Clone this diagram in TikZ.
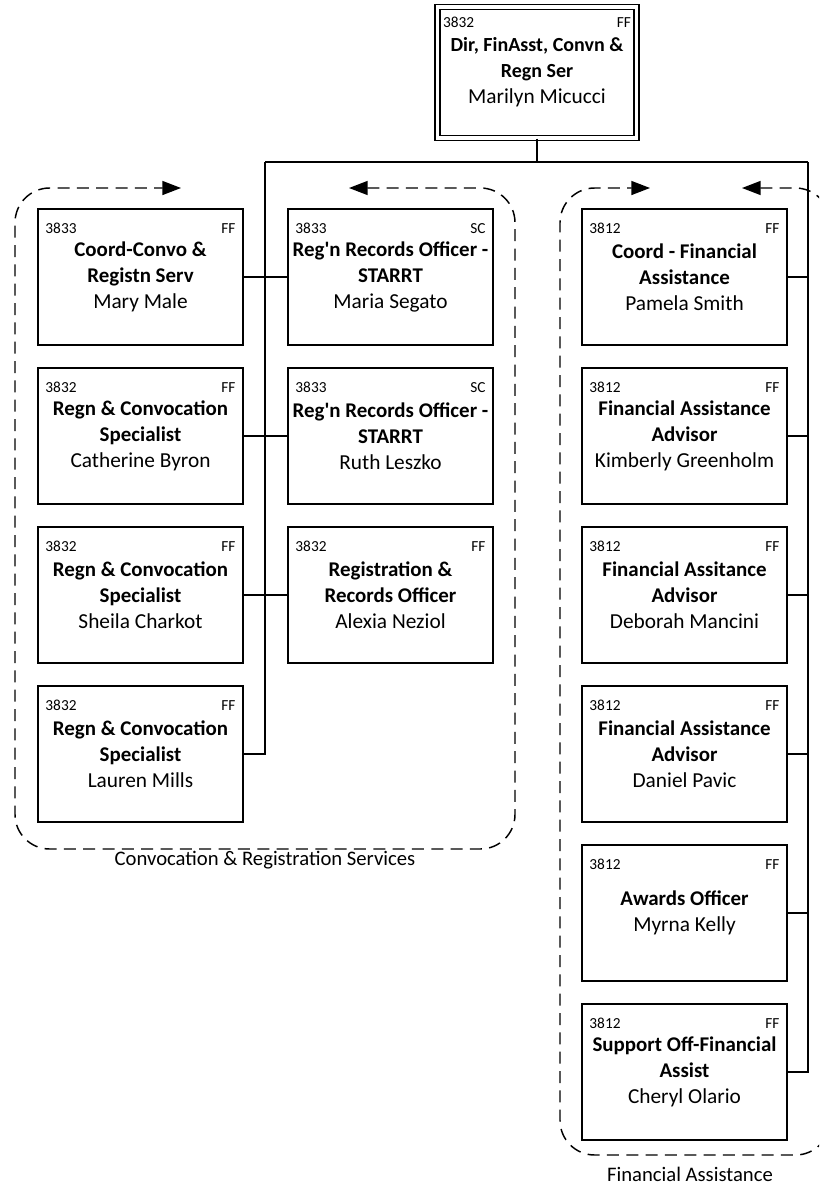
\documentclass[tikz,border=0pt]{standalone}
\usepackage{fontspec}
\setmainfont{Carlito}
\usetikzlibrary{positioning,arrows.meta,calc}
\newcommand{\jobttl}[1]{\textbf{\fontsize{15.7}{19}\selectfont #1}}
\newcommand{\bossttl}[1]{\textbf{\fontsize{15}{19}\selectfont #1}}

\begin{document}
\begin{tikzpicture}[
    x=0.75pt,y=-0.75pt,
    font=\fontsize{16}{19.5}\selectfont,
    post/.style={draw,line width=1.2pt,minimum width=153.75pt,minimum height=102pt,align=center,inner sep=0pt},
    headpost/.style={draw,line width=1pt,double,double distance=2.6pt,minimum width=149.25pt,minimum height=98.25pt,align=center,inner sep=0pt},
    code/.style={font=\fontsize{11.5}{12}\selectfont,inner sep=0pt},
    conn/.style={line width=1.2pt},
    grp/.style={line width=1.1pt,dash pattern=on 9pt off 5.5pt,rounded corners=26pt,>={Triangle[length=14pt,width=10.5pt]}},
    grplabel/.style={font=\fontsize{15.5}{18}\selectfont}
  ]
    \useasboundingbox (0,0) rectangle (819,1185);
    \clip (0,0) rectangle (819,1185);

    % director
    \node[headpost] (boss) at (537,72.5) {\bossttl{Dir, FinAsst, Convn \&}\\\bossttl{Regn Ser}\\Marilyn Micucci};
    \node[code,anchor=base west] (bossno) at ($(boss.north west)+(6,21)$) {3832};
    \node[code,anchor=base east] (bossft) at ($(boss.north east)+(-6,21)$) {FF};

    % convocation & registration, first column
    \node[post] (p1a) at (140.5,277) {\jobttl{Coord-Convo \&}\\\jobttl{Registn Serv}\\Mary Male};
    \node[post] (p1b) at (140.5,436) {\jobttl{Regn \& Convocation}\\\jobttl{Specialist}\\Catherine Byron};
    \node[post] (p1c) at (140.5,595) {\jobttl{Regn \& Convocation}\\\jobttl{Specialist}\\Sheila Charkot};
    \node[post] (p1d) at (140.5,754) {\jobttl{Regn \& Convocation}\\\jobttl{Specialist}\\Lauren Mills};

    % convocation & registration, second column
    \node[post] (p2a) at (390.5,277) {\jobttl{Reg\textquotesingle n Records Officer -}\\\jobttl{STARRT}\\Maria Segato};
    \node[post] (p2b) at (390.5,436) {\jobttl{Reg\textquotesingle n Records Officer -}\\\jobttl{STARRT}\\Ruth Leszko};
    \node[post] (p2c) at (390.5,595) {\jobttl{Registration \&}\\\jobttl{Records Officer}\\Alexia Neziol};

    % financial assistance
    \node[post] (p3a) at (684.5,277) {\jobttl{Coord - Financial}\\\jobttl{Assistance}\\Pamela Smith};
    \node[post] (p3b) at (684.5,436) {\jobttl{Financial Assistance}\\\jobttl{Advisor}\\Kimberly Greenholm};
    \node[post] (p3c) at (684.5,595) {\jobttl{Financial Assitance}\\\jobttl{Advisor}\\Deborah Mancini};
    \node[post] (p3d) at (684.5,754) {\jobttl{Financial Assistance}\\\jobttl{Advisor}\\Daniel Pavic};
    \node[post] (p3e) at (684.5,913) {\jobttl{Awards Officer}\\Myrna Kelly};
    \node[post] (p3f) at (684.5,1072) {\jobttl{Support Off-Financial}\\\jobttl{Assist}\\Cheryl Olario};

    % codes in the corners
    \node[code,anchor=base west] (p1ano) at ($(p1a.north west)+(8,25)$) {3833};
    \node[code,anchor=base east] (p1aft) at ($(p1a.north east)+(-8,25)$) {FF};
    \node[code,anchor=base west] (p1bno) at ($(p1b.north west)+(8,25)$) {3832};
    \node[code,anchor=base east] (p1bft) at ($(p1b.north east)+(-8,25)$) {FF};
    \node[code,anchor=base west] (p1cno) at ($(p1c.north west)+(8,25)$) {3832};
    \node[code,anchor=base east] (p1cft) at ($(p1c.north east)+(-8,25)$) {FF};
    \node[code,anchor=base west] (p1dno) at ($(p1d.north west)+(8,25)$) {3832};
    \node[code,anchor=base east] (p1dft) at ($(p1d.north east)+(-8,25)$) {FF};
    \node[code,anchor=base west] (p2ano) at ($(p2a.north west)+(8,25)$) {3833};
    \node[code,anchor=base east] (p2aft) at ($(p2a.north east)+(-8,25)$) {SC};
    \node[code,anchor=base west] (p2bno) at ($(p2b.north west)+(8,25)$) {3833};
    \node[code,anchor=base east] (p2bft) at ($(p2b.north east)+(-8,25)$) {SC};
    \node[code,anchor=base west] (p2cno) at ($(p2c.north west)+(8,25)$) {3832};
    \node[code,anchor=base east] (p2cft) at ($(p2c.north east)+(-8,25)$) {FF};
    \node[code,anchor=base west] (p3ano) at ($(p3a.north west)+(8,25)$) {3812};
    \node[code,anchor=base east] (p3aft) at ($(p3a.north east)+(-8,25)$) {FF};
    \node[code,anchor=base west] (p3bno) at ($(p3b.north west)+(8,25)$) {3812};
    \node[code,anchor=base east] (p3bft) at ($(p3b.north east)+(-8,25)$) {FF};
    \node[code,anchor=base west] (p3cno) at ($(p3c.north west)+(8,25)$) {3812};
    \node[code,anchor=base east] (p3cft) at ($(p3c.north east)+(-8,25)$) {FF};
    \node[code,anchor=base west] (p3dno) at ($(p3d.north west)+(8,25)$) {3812};
    \node[code,anchor=base east] (p3dft) at ($(p3d.north east)+(-8,25)$) {FF};
    \node[code,anchor=base west] (p3eno) at ($(p3e.north west)+(8,25)$) {3812};
    \node[code,anchor=base east] (p3eft) at ($(p3e.north east)+(-8,25)$) {FF};
    \node[code,anchor=base west] (p3fno) at ($(p3f.north west)+(8,25)$) {3812};
    \node[code,anchor=base east] (p3fft) at ($(p3f.north east)+(-8,25)$) {FF};

    % reporting lines
    \coordinate (busL) at (265,162);
    \coordinate (busR) at (808,162);
    \draw[conn] (boss.south) -- (boss.south |- busL);
    \draw[conn] (busL) -- (busR);
    \draw[conn] (p1d.east) -| (busL);
    \draw[conn] (p1a.east) -- (p2a.west);
    \draw[conn] (p1b.east) -- (p2b.west);
    \draw[conn] (p1c.east) -- (p2c.west);
    \draw[conn] (p3f.east) -| (busR);
    \draw[conn] (p3a.east) -- (p3a.east -| busR);
    \draw[conn] (p3b.east) -- (p3b.east -| busR);
    \draw[conn] (p3c.east) -- (p3c.east -| busR);
    \draw[conn] (p3d.east) -- (p3d.east -| busR);
    \draw[conn] (p3e.east) -- (p3e.east -| busR);

    % groups
    \draw[grp,<->] (349,188) -- (515,188) -- (515,849) -- (15,849) -- (15,188) -- (181,188);
    \draw[grp,<->] (742,188) -- (830,188) -- (830,1155) -- (560,1155) -- (560,188) -- (650,188);
    \node[grplabel] (convlbl) at (265,860) {Convocation \& Registration Services};
    \node[grplabel] (finlbl) at (690,1174) {Financial Assistance};
  \end{tikzpicture}
\end{document}
